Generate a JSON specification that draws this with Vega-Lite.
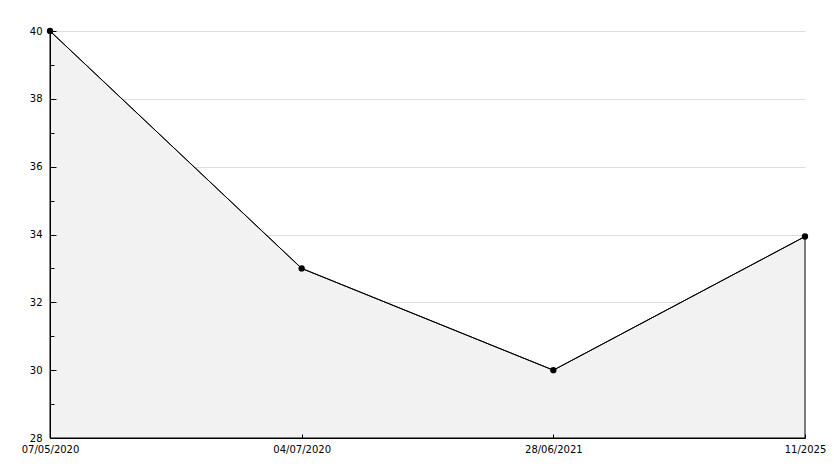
{
  "$schema": "https://vega.github.io/schema/vega-lite/v6.json",
  "width": 755,
  "height": 407,
  "autosize": {"type": "none"},
  "padding": {"left": 50, "top": 31, "right": 29, "bottom": 30},
  "background": "white",
  "config": {"view": {"stroke": null}},
  "data": {"values": [
    {"date": "07/05/2020", "value": 40},
    {"date": "04/07/2020", "value": 33},
    {"date": "28/06/2021", "value": 30},
    {"date": "11/2025", "value": 33.94}
  ]},
  "encoding": {
    "x": {"field": "date", "type": "ordinal", "sort": null,
      "scale": {"type": "point", "padding": 0},
      "axis": {"title": null, "labelAngle": 0, "labelFont": "DejaVu Sans", "labelFontSize": 10, "labelColor": "black",
        "domainColor": "black", "domainWidth": 1, "tickColor": "black", "tickSize": -4, "labelPadding": 10, "grid": false,
        "labelOverlap": false, "labelBound": false, "zindex": 1}}
  },
  "layer": [
    {"mark": {"type": "area", "color": "#f2f2f2", "stroke": "black", "strokeWidth": 1, "opacity": 1},
     "encoding": {
       "y": {"field": "value", "type": "quantitative",
         "scale": {"domain": [28, 40], "nice": false, "zero": false},
         "axis": {"title": null, "values": [30,32,34,36,38,40], "orient": "left", "zindex": 0,
           "domain": false, "ticks": false, "labels": false,
           "grid": true, "gridColor": "#dddddd"}},
       "y2": {"datum": 28}}},
    {"mark": {"type": "line", "color": "black", "strokeWidth": 1},
     "encoding": {
       "y": {"field": "value", "type": "quantitative",
         "scale": {"domain": [28, 40], "nice": false, "zero": false},
         "axis": {"title": null, "orient": "left", "values": [28,29,30,31,32,33,34,35,36,37,38,39,40],
           "labelExpr": "datum.value % 2 == 0 ? datum.label : ''",
           "labelFont": "DejaVu Sans", "labelFontSize": 10, "labelColor": "black",
           "domainColor": "black", "tickColor": "black",
           "tickSize": {"condition": {"test": "datum.value % 2 == 0", "value": -6}, "value": -4},
           "labelPadding": 14, "zindex": 1, "grid": false}}}},
    {"mark": {"type": "point", "filled": true, "color": "black", "size": 40, "opacity": 1},
     "encoding": {
       "y": {"field": "value", "type": "quantitative",
         "scale": {"domain": [28, 40], "nice": false, "zero": false},
         "axis": null}}}
  ],
  "resolve": {"axis": {"y": "independent"}}
}
